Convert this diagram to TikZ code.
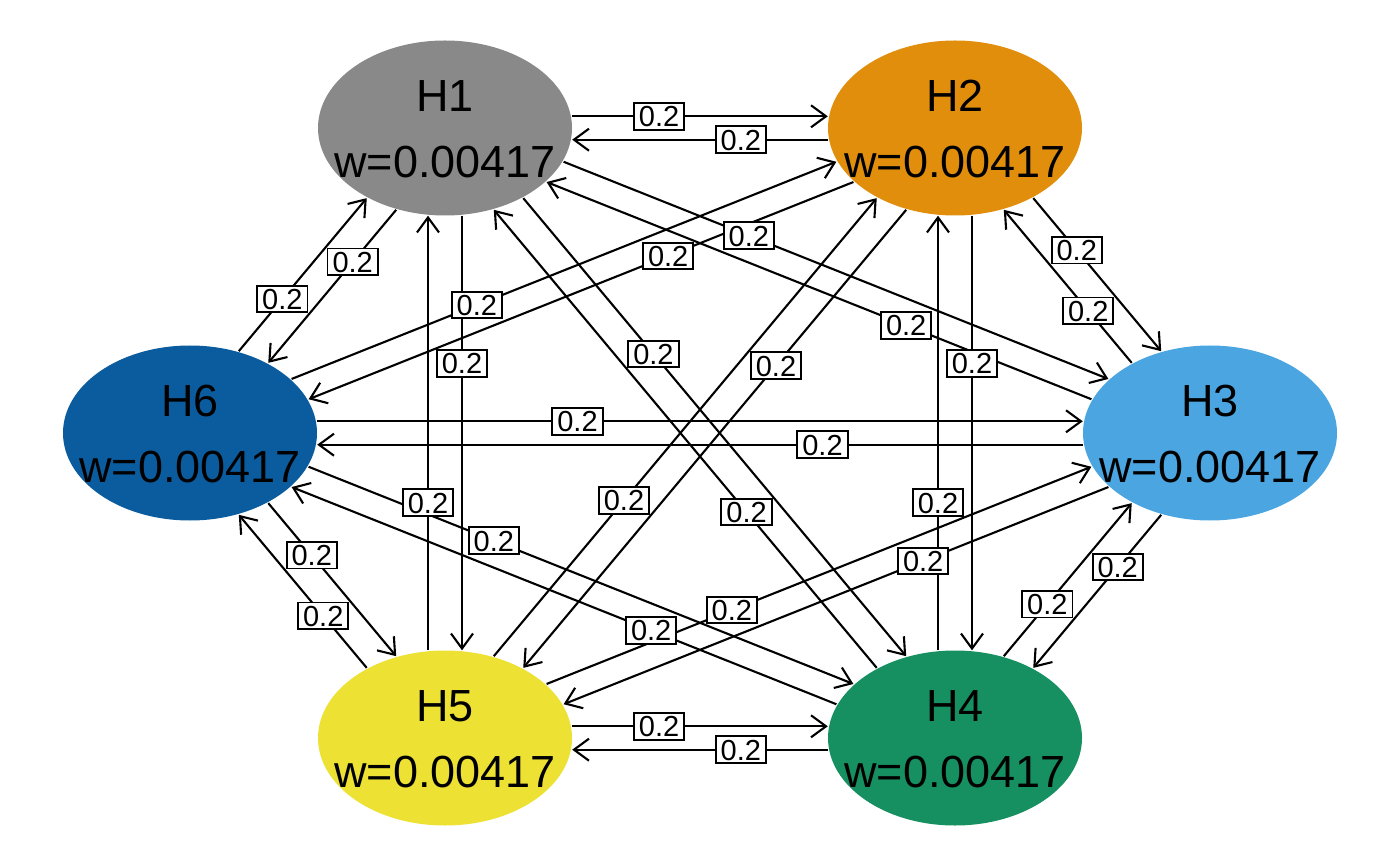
\documentclass[tikz,border=0pt]{standalone}
\usepackage{fontspec}
\setmainfont{Liberation Sans}
\usetikzlibrary{arrows.meta,shapes.geometric}

\definecolor{cH1}{HTML}{898989}
\definecolor{cH2}{HTML}{E08E0B}
\definecolor{cH3}{HTML}{4AA5E1}
\definecolor{cH4}{HTML}{168F61}
\definecolor{cH5}{HTML}{EDE134}
\definecolor{cH6}{HTML}{0B5C9E}

% perpendicular offset of a directed edge (to the left of its direction)
\newcommand\edgeshift[2]{%
  \pgfpointdiff{\pgfpointanchor{#1}{center}}{\pgfpointanchor{#2}{center}}%
  \pgfgetlastxy{\myddx}{\myddy}%
  \pgfmathsetmacro\myux{\myddx/100}%
  \pgfmathsetmacro\myuy{\myddy/68.9}%
  \pgfmathsetmacro\mynn{veclen(\myux,\myuy)}%
  \pgfmathsetmacro\myshx{-\myuy/\mynn*17}%
  \pgfmathsetmacro\myshy{\myux/\mynn*11.7}%
}
\newcommand\diedge[2]{%
  \edgeshift{#1}{#2}%
  \draw[edgeline,transform canvas={shift={(\myshx pt,\myshy pt)}}] (#1) -- (#2);%
}
\newcommand\dilabel[2]{%
  \edgeshift{#1}{#2}%
  \path[transform canvas={shift={(\myshx pt,\myshy pt)}}] (#1) -- node[lab] (l#1#2) {0.2} (#2);%
}

\tikzset{
  hnode/.style={ellipse, minimum width=254pt, minimum height=175pt, inner sep=0pt, draw=none},
  htxt/.style={font=\fontsize{45}{54}\selectfont, anchor=base, inner sep=0pt},
  edgeline/.style={line width=2.1pt, -{Straight Barb[length=15pt,width=22pt]}},
  lab/.style={draw, fill=white, line width=1.9pt, font=\fontsize{29}{30}\selectfont,
    inner xsep=5pt, inner ysep=2.8pt, text height=21pt, text depth=0pt, pos=0.34},
}

\begin{document}
\begin{tikzpicture}[x=1pt,y=-1pt]
\useasboundingbox (0,0) rectangle (1400,866);

\node[hnode, fill=cH1] (H1) at (445,128) {};
\node[hnode, fill=cH2] (H2) at (955,128) {};
\node[hnode, fill=cH3] (H3) at (1210,433) {};
\node[hnode, fill=cH4] (H4) at (955,738) {};
\node[hnode, fill=cH5] (H5) at (445,738) {};
\node[hnode, fill=cH6] (H6) at (190,433) {};

\foreach \a in {1,...,6}{
  \foreach \b in {1,...,6}{
    \ifnum\a=\b\relax\else\diedge{H\a}{H\b}\fi
  }
}
\foreach \a in {1,...,6}{
  \foreach \b in {1,...,6}{
    \ifnum\a=\b\relax\else\dilabel{H\a}{H\b}\fi
  }
}

\foreach \i in {1,...,6}{
  \node[htxt] (H\i a) at ([yshift=16.5pt]H\i.center) {H\i};
  \node[htxt] (H\i b) at ([yshift=-49.5pt]H\i.center) {w=0.00417};
}
\end{tikzpicture}
\end{document}
